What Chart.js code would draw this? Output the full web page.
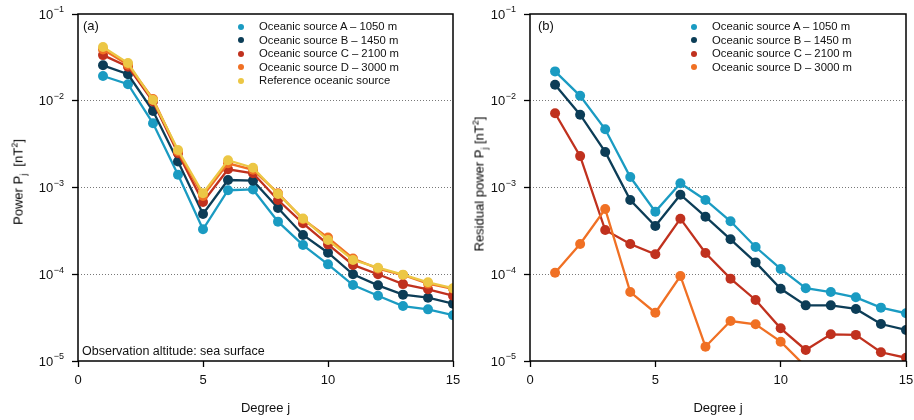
<!DOCTYPE html>
<html>
<head>
<meta charset="utf-8">
<script src="https://cdn.jsdelivr.net/npm/chart.js@4.4.0/dist/chart.umd.min.js"></script>
<style>
  body { margin: 0; background: #fff; }
  #wrap { position: relative; width: 914px; height: 420px; font-family: 'Liberation Sans', Arial, sans-serif; color: #111; }
  canvas { position: absolute; top: 0; }
  .lbl { position: absolute; white-space: nowrap; line-height: 1; }
  .ytitle { position: absolute; white-space: nowrap; font-size: 13px; color: #000; transform: translate(-50%, -50%) rotate(-90deg); }
  .ytitle sub, .ytitle sup { font-size: 9px; }
  .legend { position: absolute; font-size: 11.3px; }
  .legend div { position: relative; height: 13.5px; line-height: 13.5px; padding-left: 21px; white-space: nowrap; }
  .legend span { position: absolute; left: 0; top: 3.75px; width: 6px; height: 6px; border-radius: 50%; }
</style>
</head>
<body>
<div id="wrap">
  <canvas id="panelA" width="460" height="420" style="left:0"></canvas>
  <canvas id="panelB" width="454" height="420" style="left:460px"></canvas>
  <div class="ytitle" style="left:19px; top:182px">Power P<sub>j</sub>&nbsp; [nT<sup>2</sup>]</div>
  <div class="ytitle" style="left:480px; top:184px">Residual power P<sub>j</sub> [nT<sup>2</sup>]</div>
  <div class="lbl" style="left:83px; top:19px; font-size:13px">(a)</div>
  <div class="lbl" style="left:538px; top:19px; font-size:13px">(b)</div>
  <div class="lbl" style="left:82px; top:345px; font-size:12.5px">Observation altitude: sea surface</div>
  <div class="legend" id="legendA" style="left:238px; top:20px"></div>
  <div class="legend" id="legendB" style="left:691px; top:20px"></div>
</div>
<script>
// degree j on the x axis
const degrees = [1, 2, 3, 4, 5, 6, 7, 8, 9, 10, 11, 12, 13, 14, 15];
const yTicks = [1e-5, 1e-4, 1e-3, 1e-2, 1e-1];

// (a) power spectrum
const powerA = [0.0193, 0.0155, 0.0055, 0.0014, 0.00033, 0.00093, 0.00095, 0.000404, 0.000217, 0.00013, 7.5e-5, 5.66e-5, 4.3e-5, 3.94e-5, 3.37e-5];
const powerB = [0.0256, 0.0202, 0.0076, 0.00199, 0.000495, 0.00122, 0.0012, 0.00058, 0.000284, 0.000177, 1.0e-4, 7.45e-5, 5.82e-5, 5.37e-5, 4.58e-5];
const powerC = [0.0336, 0.0247, 0.0098, 0.00248, 0.00068, 0.00162, 0.00146, 0.000718, 0.000387, 0.000221, 0.000128, 0.0001, 7.7e-5, 6.7e-5, 5.66e-5];
const powerD = [0.039, 0.026, 0.0105, 0.0026, 0.0008, 0.0019, 0.0016, 0.00086, 0.00043, 0.000265, 0.000152, 0.000116, 9.8e-5, 7.8e-5, 6.8e-5];
const powerRef = [0.0417, 0.0272, 0.0102, 0.0027, 0.000857, 0.00206, 0.00169, 0.00084, 0.00044, 0.000248, 0.000146, 0.000119, 9.9e-5, 8.07e-5, 6.9e-5];

// (b) residual power
const resA = [0.0218, 0.0114, 0.00469, 0.00132, 0.000527, 0.00112, 0.000718, 0.000408, 0.000206, 0.000115, 6.9e-5, 6.24e-5, 5.42e-5, 4.12e-5, 3.55e-5];
const resB = [0.0153, 0.0069, 0.00257, 0.000718, 0.00036, 0.000826, 0.000461, 0.000253, 0.000137, 6.8e-5, 4.38e-5, 4.38e-5, 3.98e-5, 2.67e-5, 2.28e-5];
const resC = [0.00717, 0.0023, 0.000323, 0.000223, 0.00017, 0.000437, 0.000176, 8.9e-5, 5.05e-5, 2.38e-5, 1.34e-5, 2.03e-5, 2.0e-5, 1.26e-5, 1.09e-5];
const resD = [0.000104, 0.000223, 0.000565, 6.24e-5, 3.6e-5, 9.55e-5, 1.46e-5, 2.89e-5, 2.65e-5, 1.67e-5, 8.6e-6];

const labelsA = ['Oceanic source A \u2013 1050 m', 'Oceanic source B \u2013 1450 m', 'Oceanic source C \u2013 2100 m', 'Oceanic source D \u2013 3000 m', 'Reference oceanic source'];
const colors = ['#1a9bc2', '#0c3d57', '#c0311e', '#f07024', '#ecc745'];

const fontFamily = "'Liberation Sans', Arial, sans-serif";
Chart.defaults.font.family = fontFamily;
Chart.defaults.font.size = 13;
Chart.defaults.color = '#111';

// box around the plot + "10^-n" tick labels with a real superscript
const frame = {
    id: 'frame',
    afterDraw(chart) {
        const a = chart.chartArea, ctx = chart.ctx, y = chart.scales.y;
        ctx.save();
        ctx.strokeStyle = '#000';
        ctx.lineWidth = 1.5;
        ctx.strokeRect(a.left, a.top, a.right - a.left, a.bottom - a.top);
        ctx.fillStyle = '#111';
        y.ticks.forEach(t => {
            const py = y.getPixelForValue(t.value);
            const exp = '\u2212' + Math.round(-Math.log10(t.value));
            ctx.font = '9px ' + fontFamily;
            ctx.textAlign = 'right';
            ctx.textBaseline = 'alphabetic';
            const right = a.left - 14;
            ctx.fillText(exp, right, py - 1.6);
            const ew = ctx.measureText(exp).width;
            ctx.font = '13px ' + fontFamily;
            ctx.fillText('10', right - ew - 0.5, py + 4.7);
        });
        ctx.restore();
    }
};

function series(values, i) {
    return {
        label: labelsA[i],
        data: values.map((v, k) => ({ x: degrees[k], y: v })),
        borderColor: colors[i],
        backgroundColor: colors[i],
        borderWidth: 2.3,
        pointRadius: 5,
        pointBorderWidth: 0,
        pointHoverRadius: 5,
        order: 10 - i,
        clip: 0
    };
}

function makePanel(id, datasets, axisWidth, rightGap) {
    return new Chart(document.getElementById(id), {
        type: 'line',
        data: { datasets: datasets },
        options: {
            responsive: false,
            animation: false,
            devicePixelRatio: 1,
            layout: { padding: { top: 14, right: rightGap, left: 0, bottom: 0 } },
            plugins: { legend: { display: false }, tooltip: { enabled: false } },
            scales: {
                x: {
                    type: 'linear', min: 0, max: 15,
                    ticks: { stepSize: 5, padding: 6, color: '#111' },
                    grid: { drawOnChartArea: false, tickLength: 6, tickColor: '#000', tickWidth: 1.3 },
                    border: { display: false },
                    title: { display: true, text: 'Degree j', padding: { top: 0, bottom: 4 } },
                    afterFit: s => { s.height = 59; s.paddingLeft = 0; s.paddingRight = 0; }
                },
                y: {
                    type: 'logarithmic', min: 1e-5, max: 1e-1,
                    afterBuildTicks: s => { s.ticks = yTicks.map(v => ({ value: v })); },
                    ticks: { display: false },
                    grid: {
                        color: c => (c.tick && c.tick.value > 2e-5 && c.tick.value < 5e-2) ? '#555' : 'rgba(0,0,0,0)',
                        lineWidth: 0.8,
                        tickLength: 6, tickColor: '#000', tickWidth: 1.3
                    },
                    border: { display: false, dash: [1, 2] },
                    afterFit: s => { s.width = axisWidth; s.paddingTop = 0; s.paddingBottom = 0; }
                }
            }
        },
        plugins: [frame]
    });
}

makePanel('panelA', [powerA, powerB, powerC, powerD, powerRef].map(series), 78, 7);
makePanel('panelB', [resA, resB, resC, resD].map(series), 70, 8);

function legend(id, n) {
    document.getElementById(id).innerHTML = labelsA.slice(0, n)
        .map((t, i) => `<div><span style="background:${colors[i]}"></span>${t}</div>`).join('');
}
legend('legendA', 5);
legend('legendB', 4);
</script>
</body>
</html>
